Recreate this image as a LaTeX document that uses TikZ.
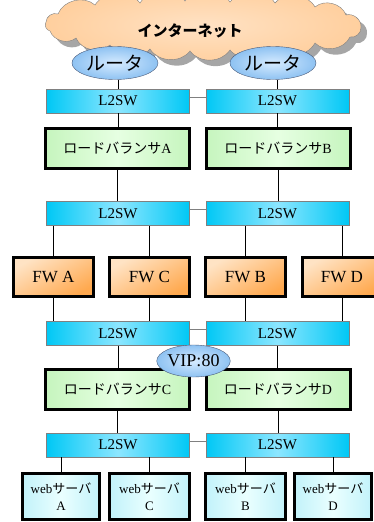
\documentclass[tikz,border=0pt]{standalone}
\usepackage{fontspec}
\setmainfont{Liberation Serif}
\newfontfamily\jp{Noto Sans CJK JP}
\usetikzlibrary{shapes.geometric}
\definecolor{swcyan}{HTML}{00C8F5}
\definecolor{swlight}{HTML}{8CE6FF}
\definecolor{lbgreen}{HTML}{C6F5BE}
\definecolor{lblight}{HTML}{E6FFE2}
\definecolor{fwdark}{HTML}{FFA94F}
\definecolor{fwlight}{HTML}{FFE3C4}
\definecolor{webcyan}{HTML}{C2F2FA}
\definecolor{weblight}{HTML}{EAFFFF}
\definecolor{rtblue}{HTML}{8EC2F2}
\definecolor{rtlight}{HTML}{D6EBFF}
\definecolor{rtedge}{HTML}{4A5A78}
\definecolor{netpeach}{HTML}{FFCF9E}
\definecolor{netlight}{HTML}{FFE2C4}
\definecolor{netshade}{HTML}{A6A6A6}
\definecolor{linkgray}{HTML}{808080}
\tikzset{
  l2sw/.style={draw=linkgray,left color=swcyan,right color=swcyan,middle color=swlight,
    minimum width=143pt,minimum height=24pt,inner sep=0pt,font=\fontsize{15}{17}\selectfont},
  lbbox/.style={draw=black,line width=3pt,left color=lbgreen,right color=lbgreen,middle color=lblight,
    minimum width=144pt,minimum height=40pt,inner sep=0pt,font=\fontsize{14}{16}\selectfont},
  fwbox/.style={draw=black,line width=3pt,top color=fwlight,bottom color=fwdark,shading angle=30,
    minimum width=80pt,minimum height=39pt,inner sep=0pt,font=\fontsize{17}{19}\selectfont},
  websv/.style={draw=black,line width=3pt,left color=webcyan,right color=webcyan,middle color=weblight,
    minimum height=46pt,inner sep=0pt,align=center,font=\fontsize{13}{17}\selectfont},
  router/.style={ellipse,draw=rtedge,inner color=rtlight,outer color=rtblue,
    minimum width=86pt,minimum height=33pt,inner sep=0pt,font=\jp\fontsize{19}{21}\selectfont},
  vipnode/.style={ellipse,draw=rtedge,inner color=rtlight,outer color=rtblue,
    minimum width=73pt,minimum height=32pt,inner sep=0pt,font=\fontsize{18}{20}\selectfont},
  netcloud/.style={draw=linkgray,inner color=netlight,outer color=netpeach},
  netshadow/.style={fill=netshade},
  netlabel/.style={inner sep=0pt,font=\jp\bfseries\fontsize{15}{17}\selectfont},
  puff/.style={bend left=55},
  wire/.style={draw=black,thin},
  swlink/.style={draw=linkgray,thin}
}

\begin{document}
\begin{tikzpicture}[x=1pt,y=-1pt]
  \useasboundingbox (0,0) rectangle (374,522);
  % internet cloud (shadow first) and routers
  \begin{scope}[shift={(6,6)}]
  \path[netshadow] (58,14) to[puff] (95,5) to[puff] (140,3) to[puff] (185,1)
    to[puff] (230,2) to[puff] (275,3) to[puff] (315,7) to[puff] (346,15)
    to[puff] (361,27) to[puff] (350,37) to[puff] (315,43) to[puff] (270,47)
    to[puff] (230,50) to[puff] (190,51) to[puff] (150,49) to[puff] (110,45)
    to[puff] (76,38) to[puff] (50,31) to[puff] (46,22) to[puff] cycle;
  \end{scope}
  \path[netcloud] (58,14) to[puff] (95,5) to[puff] (140,3) to[puff] (185,1)
    to[puff] (230,2) to[puff] (275,3) to[puff] (315,7) to[puff] (346,15)
    to[puff] (361,27) to[puff] (350,37) to[puff] (315,43) to[puff] (270,47)
    to[puff] (230,50) to[puff] (190,51) to[puff] (150,49) to[puff] (110,45)
    to[puff] (76,38) to[puff] (50,31) to[puff] (46,22) to[puff] cycle;
  \node[netlabel] (net) at (190,31) {インターネット};
  \node[router] (r1) at (115,63) {ルータ};
  \node[router] (r2) at (273,63) {ルータ};
  % L2SW rows
  \node[l2sw] (sw1a) at (118,101) {L2SW};
  \node[l2sw] (sw1b) at (277.5,101) {L2SW};
  \node[l2sw] (sw2a) at (118,213.5) {L2SW};
  \node[l2sw] (sw2b) at (277.5,213.5) {L2SW};
  \node[l2sw] (sw3a) at (118,333.5) {L2SW};
  \node[l2sw] (sw3b) at (277.5,333.5) {L2SW};
  \node[l2sw] (sw4a) at (118,445) {L2SW};
  \node[l2sw] (sw4b) at (277.5,445) {L2SW};
  % load balancers
  \node[lbbox] (lba) at (117.5,148.5) {{\jp ロードバランサ}A};
  \node[lbbox] (lbb) at (278,148.5) {{\jp ロードバランサ}B};
  \node[lbbox] (lbc) at (117.5,389.5) {{\jp ロードバランサ}C};
  \node[lbbox] (lbd) at (278,389.5) {{\jp ロードバランサ}D};
  % firewalls
  \node[fwbox] (fwa) at (53.5,277) {FW A};
  \node[fwbox] (fwc) at (149.5,277) {FW C};
  \node[fwbox] (fwb) at (245.5,277) {FW B};
  \node[fwbox] (fwd) at (342,277) {FW D};
  % web servers
  \node[websv,minimum width=77pt] (wa) at (61,496.5) {web{\jp サーバ}\\A};
  \node[websv,minimum width=80pt] (wc) at (149.5,496.5) {web{\jp サーバ}\\C};
  \node[websv,minimum width=80pt] (wb) at (245.5,496.5) {web{\jp サーバ}\\B};
  \node[websv,minimum width=77pt] (wd) at (333,496.5) {web{\jp サーバ}\\D};
  % links between switch pairs
  \draw[swlink] ([yshift=4pt]sw1a.east) -- ([yshift=4pt]sw1b.west);
  \draw[swlink] ([yshift=4pt]sw2a.east) -- ([yshift=4pt]sw2b.west);
  \draw[swlink] ([yshift=4pt]sw3a.east) -- ([yshift=4pt]sw3b.west);
  \draw[swlink] ([yshift=4pt]sw4a.east) -- ([yshift=4pt]sw4b.west);
  % vertical wiring
  \draw[wire] (sw1a.north) -- (sw1a.north |- r1.south);
  \draw[wire] (sw1b.north) -- (sw1b.north |- r2.south);
  \draw[wire] (sw1a.south) -- (sw1a.south |- lba.north);
  \draw[wire] (sw1b.south) -- (sw1b.south |- lbb.north);
  \draw[wire] (lba.south) -- (lba.south |- sw2a.north);
  \draw[wire] (lbb.south) -- (lbb.south |- sw2b.north);
  \draw[wire] (fwa.north) -- (fwa.north |- sw2a.south);
  \draw[wire] (fwc.north) -- (fwc.north |- sw2a.south);
  \draw[wire] (fwb.north) -- (fwb.north |- sw2b.south);
  \draw[wire] (fwd.north) -- (fwd.north |- sw2b.south);
  \draw[wire] (fwa.south) -- (fwa.south |- sw3a.north);
  \draw[wire] (fwc.south) -- (fwc.south |- sw3a.north);
  \draw[wire] (fwb.south) -- (fwb.south |- sw3b.north);
  \draw[wire] (fwd.south) -- (fwd.south |- sw3b.north);
  \draw[wire] (sw3a.south) -- (sw3a.south |- lbc.north);
  \draw[wire] (sw3b.south) -- (sw3b.south |- lbd.north);
  \draw[wire] (lbc.south) -- (lbc.south |- sw4a.north);
  \draw[wire] (lbd.south) -- (lbd.south |- sw4b.north);
  \draw[wire] (wa.north) -- (wa.north |- sw4a.south);
  \draw[wire] (wc.north) -- (wc.north |- sw4a.south);
  \draw[wire] (wb.north) -- (wb.north |- sw4b.south);
  \draw[wire] (wd.north) -- (wd.north |- sw4b.south);
  % virtual IP
  \node[vipnode] (vip) at (193.5,361) {VIP:80};
\end{tikzpicture}
\end{document}
